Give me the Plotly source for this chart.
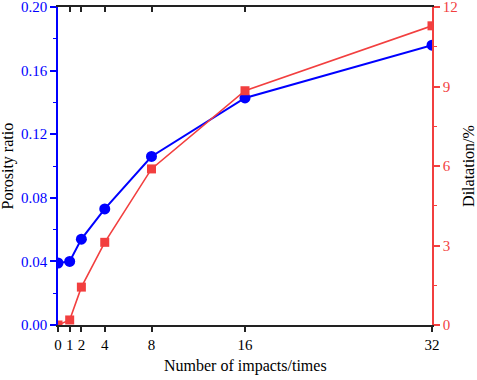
import plotly.graph_objects as go

impacts = [0, 1, 2, 4, 8, 16, 32]
porosity = [0.039, 0.040, 0.054, 0.073, 0.106, 0.1428, 0.176]
dilatation = [0.0, 0.19, 1.43, 3.12, 5.89, 8.84, 11.29]
x_ticks = [0, 1, 2, 4, 8, 16, 32]
y1_ticks = [0.00, 0.04, 0.08, 0.12, 0.16, 0.20]
y2_ticks = [0, 3, 6, 9, 12]

BLUE = "#0000ff"
RED = "#f23f3f"
FONT = "Liberation Serif"

fig = go.Figure()
fig.add_trace(go.Scatter(x=impacts, y=porosity, mode="lines+markers",
                         line=dict(color=BLUE, width=2),
                         marker=dict(symbol="circle", size=11, color=BLUE),
                         xaxis="x", yaxis="y", showlegend=False))
fig.add_trace(go.Scatter(x=impacts, y=dilatation, mode="lines+markers",
                         line=dict(color=RED, width=1.6),
                         marker=dict(symbol="square", size=9, color=RED),
                         xaxis="x", yaxis="y2", showlegend=False))
fig.add_trace(go.Scatter(x=[impacts[0]], y=[porosity[0]], mode="markers",
                         marker=dict(opacity=0), xaxis="x2", yaxis="y",
                         showlegend=False, hoverinfo="skip"))

fig.update_layout(
    width=477, height=380,
    margin=dict(l=58, r=45, t=7, b=55, autoexpand=False),
    paper_bgcolor="white", plot_bgcolor="white",
    font=dict(family=FONT, size=15, color="black"),
    xaxis=dict(range=[0, 32], tickvals=x_ticks, ticktext=[str(v) for v in x_ticks],
               automargin=False, ticklabeloverflow="allow",
               showgrid=False, zeroline=False, showline=True, linecolor="#222",
               linewidth=1.5, ticks="outside", ticklen=5, tickwidth=1.5, tickcolor="#222",
               tickfont=dict(family=FONT, size=15, color="black")),
    xaxis2=dict(range=[0, 32], overlaying="x", side="top", tickvals=x_ticks,
                automargin=False,
                showticklabels=False, showgrid=False, zeroline=False, showline=True,
                linecolor="#222", linewidth=1.5, ticks="inside", ticklen=5,
                tickwidth=1.5, tickcolor="#222"),
    yaxis=dict(range=[0, 0.20], tickvals=y1_ticks, ticktext=[f"{v:.2f}" for v in y1_ticks],
               automargin=False, ticklabeloverflow="allow",
               showgrid=False, zeroline=False, showline=True, linecolor=BLUE, linewidth=1.5,
               ticks="outside", ticklen=6, tickwidth=1.5, tickcolor=BLUE,
               minor=dict(dtick=0.02, ticks="outside", ticklen=3, tickwidth=1.2, tickcolor=BLUE,
                          showgrid=False),
               tickfont=dict(family=FONT, size=15, color=BLUE)),
    yaxis2=dict(range=[0, 12], tickvals=y2_ticks, overlaying="y", side="right",
                automargin=False, ticklabeloverflow="allow",
                showgrid=False, zeroline=False, showline=True, linecolor=RED, linewidth=1.5,
                ticks="outside", ticklen=6, tickwidth=1.5, tickcolor=RED,
                minor=dict(dtick=1.5, ticks="outside", ticklen=3, tickwidth=1.2, tickcolor=RED,
                           showgrid=False),
                tickfont=dict(family=FONT, size=15, color=RED)),
    annotations=[
        dict(text="Number of impacts/times", xref="paper", yref="paper",
             x=0.5, y=-0.13, xanchor="center", yanchor="middle", showarrow=False,
             font=dict(family=FONT, size=16, color="black")),
        dict(text="Porosity ratio", xref="paper", yref="paper", textangle=-90,
             x=-0.135, y=0.5, xanchor="center", yanchor="middle", showarrow=False,
             font=dict(family=FONT, size=16, color="black")),
        dict(text="Dilatation/%", xref="paper", yref="paper", textangle=-90,
             x=1.096, y=0.5, xanchor="center", yanchor="middle", showarrow=False,
             font=dict(family=FONT, size=16, color="black")),
    ],
)

fig.write_html("out.html", config={"displayModeBar": False},
               post_script="document.body.style.margin='0';document.body.style.padding='0';")
